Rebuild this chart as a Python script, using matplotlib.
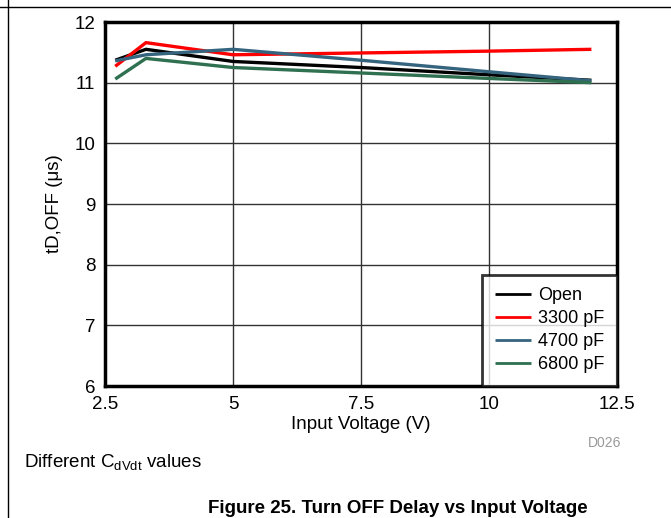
"""
Turn OFF delay vs input voltage, different CdVdt values
"""

import matplotlib
matplotlib.use("Agg")
import matplotlib.pyplot as plt
from matplotlib.lines import Line2D

plt.rcParams["font.family"] = ["Liberation Sans", "DejaVu Sans"]

# input voltage (V)
vin = [2.7, 3.3, 5, 7.5, 10, 12]

# tD,OFF (us)
t_open = [11.37, 11.55, 11.35, 11.25, 11.13, 11.04]
t_3300 = [11.27, 11.66, 11.46, 11.49, 11.52, 11.55]
t_4700 = [11.36, 11.46, 11.55, 11.37, 11.18, 11.03]
t_6800 = [11.06, 11.40, 11.25, 11.16, 11.07, 11.00]

labels = ["Open", "3300 pF", "4700 pF", "6800 pF"]
colors = ["black", "#FF0000", "#35657E", "#2F7050"]

xticks = [2.5, 5, 7.5, 10, 12.5]
xticklabels = ["2.5", "5", "7.5", "10", "12.5"]
yticks = [6, 7, 8, 9, 10, 11, 12]

FS = 13.5

fig = plt.figure(figsize=(6.71, 5.18), dpi=100)
ax = fig.add_axes([0.1565, 0.2548, 0.763, 0.7027])

for y, lab, c in zip([t_open, t_3300, t_4700, t_6800], labels, colors):
    ax.plot(vin, y, color=c, linewidth=2.4, label=lab, solid_capstyle="butt")

ax.set_xlim(2.5, 12.5)
ax.set_ylim(6, 12)
ax.set_xticks(xticks)
ax.set_xticklabels(xticklabels)
ax.set_yticks(yticks)
ax.tick_params(length=0, labelsize=FS, pad=7)
ax.grid(True, color="#333333", linewidth=1.0)
ax.set_axisbelow(True)
for s in ax.spines.values():
    s.set_linewidth(2.5)

ax.set_xlabel("Input Voltage (V)", fontsize=FS, labelpad=2)
ax.set_ylabel("tD,OFF (\u03bcs)", fontsize=FS, labelpad=8)

leg = ax.legend(loc="lower right", fontsize=13, frameon=True, fancybox=False,
                borderaxespad=0, handlelength=2.0, labelspacing=0.33,
                borderpad=0.7, handletextpad=0.4)
leg.get_frame().set_edgecolor("black")
leg.get_frame().set_linewidth(2.0)
for h in leg.get_lines():
    h.set_linewidth(2.0)

fig.text(0.876, 0.145, "D026", color="#999999", fontsize=10, ha="left", va="center")
fig.text(0.036, 0.106, "Different C$_{\\mathregular{dVdt}}$ values", fontsize=FS,
         ha="left", va="center")
fig.text(0.593, 0.018, "Figure 25. Turn OFF Delay vs Input Voltage", fontsize=13.5,
         fontweight="bold", ha="center", va="center")

# page frame lines
fig.add_artist(Line2D([0, 1], [0.987, 0.987], color="black", linewidth=1.0,
                      transform=fig.transFigure))
fig.add_artist(Line2D([0.0112, 0.0112], [0, 1], color="black", linewidth=1.0,
                      transform=fig.transFigure))

fig.savefig("out.png", dpi=100)
